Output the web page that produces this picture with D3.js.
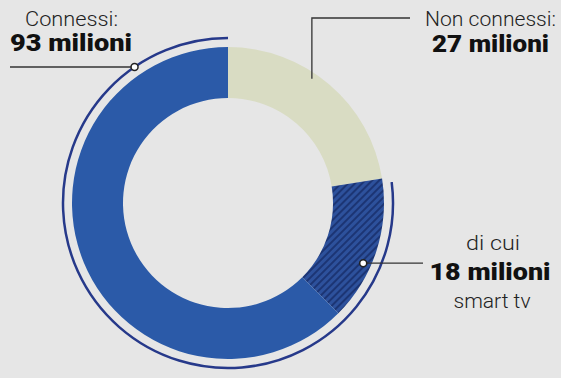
<!DOCTYPE html>
<html>
<head>
<meta charset="utf-8">
<script src="https://cdn.jsdelivr.net/npm/d3@7/dist/d3.min.js"></script>
<style>
  html, body { margin: 0; padding: 0; background: #e6e6e6; }
  svg { display: block; }
  text { font-family: Roboto, "Noto Sans", sans-serif; }
</style>
</head>
<body>
<script>
// ---- data ----
const categories = ["Non connessi", "Smart tv", "Connessi (altri)"];
const values = [27, 18, 75];
const labelTop = ["Connessi:", "Non connessi:", "di cui"];
const labelValue = ["93 milioni", "27 milioni", "18 milioni"];
const labelBottom = ["", "", "smart tv"];

const W = 561, H = 378;
const cx = 228, cy = 203;
const rOuter = 156, rInner = 105, rRing = 165;

const svg = d3.select("body").append("svg").attr("width", W).attr("height", H);
svg.append("rect").attr("width", W).attr("height", H).attr("fill", "#e6e6e6");

const defs = svg.append("defs");
const pat = defs.append("pattern").attr("id", "hatch")
  .attr("patternUnits", "userSpaceOnUse").attr("width", 5).attr("height", 5)
  .attr("patternTransform", "rotate(45)");
pat.append("rect").attr("width", 5).attr("height", 5).attr("fill", "#2d519c");
pat.append("rect").attr("width", 2).attr("height", 5).attr("fill", "#1c3574");

const colors = ["#d9dcc3", "url(#hatch)", "#2b5aa8"];

const pie = d3.pie().sort(null).value(d => d)(values);
const arc = d3.arc().innerRadius(rInner).outerRadius(rOuter);

const g = svg.append("g").attr("transform", `translate(${cx},${cy})`);
g.selectAll("path.slice").data(pie).join("path")
  .attr("class", "slice")
  .attr("d", arc)
  .attr("fill", (d, i) => colors[i]);

// outer ring around "connessi" (smart tv + others)
const ringArc = d3.arc().innerRadius(rRing).outerRadius(rRing);
g.append("path")
  .attr("d", ringArc({ startAngle: pie[1].startAngle + 0.03, endAngle: 2 * Math.PI }))
  .attr("fill", "none").attr("stroke", "#26398a").attr("stroke-width", 2.5);

function polar(r, deg) {
  const a = deg * Math.PI / 180;
  return [cx + r * Math.sin(a), cy - r * Math.cos(a)];
}

const lineColor = "#333";

// Connessi leader
const p1 = polar(rRing, 325.5);
svg.append("line").attr("x1", 10).attr("y1", p1[1]).attr("x2", p1[0]).attr("y2", p1[1])
  .attr("stroke", lineColor).attr("stroke-width", 1.3);
svg.append("circle").attr("cx", p1[0]).attr("cy", p1[1]).attr("r", 3.5)
  .attr("fill", "#fff").attr("stroke", "#222").attr("stroke-width", 1.5);

// Non connessi leader
const p2 = polar(150, 34);
svg.append("path")
  .attr("d", `M${p2[0]},${p2[1]} L${p2[0]},18 L410,18`)
  .attr("fill", "none").attr("stroke", lineColor).attr("stroke-width", 1.3);

// Smart tv leader
const p3 = polar(148, 114);
svg.append("line").attr("x1", p3[0]).attr("y1", p3[1]).attr("x2", 423).attr("y2", p3[1])
  .attr("stroke", lineColor).attr("stroke-width", 1.3);
svg.append("circle").attr("cx", p3[0]).attr("cy", p3[1]).attr("r", 3.5)
  .attr("fill", "#fff").attr("stroke", "#222").attr("stroke-width", 1.5);

function txt(s, x, y, size, weight, anchor, len) {
  const t = svg.append("text").attr("x", x).attr("y", y)
    .attr("font-size", size).attr("font-weight", weight)
    .attr("text-anchor", anchor).attr("fill", weight > 500 ? "#111" : "#222")
    .text(s);
  if (len) t.attr("textLength", len).attr("lengthAdjust", "spacingAndGlyphs");
  return t;
}

txt(labelTop[0], 25, 26, 21, 300, "start", 93);
txt(labelValue[0], 10, 51, 24, 900, "start", 122);

txt(labelTop[1], 556, 26, 21, 300, "end", 131);
txt(labelValue[1], 549, 52, 24, 900, "end", 117);

txt(labelTop[2], 493, 250, 21, 300, "middle", 54);
txt(labelValue[2], 490, 280, 24, 900, "middle", 121);
txt(labelBottom[2], 492, 308, 21, 300, "middle", 77);
</script>
</body>
</html>
